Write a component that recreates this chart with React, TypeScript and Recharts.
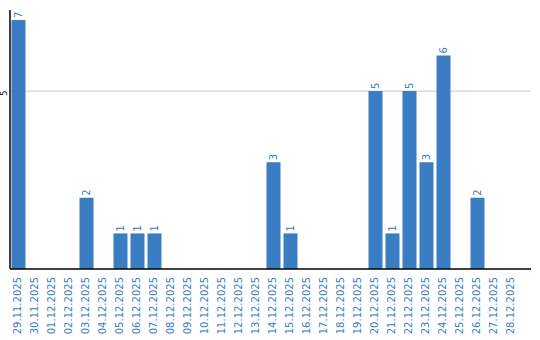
import { BarChart, Bar, XAxis, YAxis, CartesianGrid, LabelList } from 'recharts'

const days = [
  '29.11.2025', '30.11.2025', '01.12.2025', '02.12.2025', '03.12.2025', '04.12.2025',
  '05.12.2025', '06.12.2025', '07.12.2025', '08.12.2025', '09.12.2025', '10.12.2025',
  '11.12.2025', '12.12.2025', '13.12.2025', '14.12.2025', '15.12.2025', '16.12.2025',
  '17.12.2025', '18.12.2025', '19.12.2025', '20.12.2025', '21.12.2025', '22.12.2025',
  '23.12.2025', '24.12.2025', '25.12.2025', '26.12.2025', '27.12.2025', '28.12.2025',
]
const counts = [7, 0, 0, 0, 2, 0, 1, 1, 1, 0, 0, 0, 0, 0, 0, 3, 1, 0, 0, 0, 0, 5, 1, 5, 3, 6, 0, 2, 0, 0]
const yTicks = [5]

const data = days.map((day, i) => ({ day, count: counts[i] }))

const BLUE = '#3a7dc2'
const FONT = "'DejaVu Sans', Verdana, sans-serif"

function XTick({ x, y, payload }: any) {
  const ty = y
  return (
    <text
      x={x - 1}
      y={ty}
      transform={`rotate(-90, ${x - 1}, ${ty})`}
      textAnchor="end"
      dominantBaseline="central"
      fill={BLUE}
      fontSize={10}
      fontFamily={FONT}
    >
      {payload.value}
    </text>
  )
}

function YTick({ y, payload }: any) {
  return (
    <text
      x={5}
      y={y + 2}
      transform={`rotate(-90, 5, ${y + 2})`}
      textAnchor="middle"
      dominantBaseline="central"
      fill="#000"
      fontSize={8}
      fontFamily={FONT}
    >
      {payload.value}
    </text>
  )
}

function ValueLabel({ x, y, width, value }: any) {
  if (!value) return null
  const cx = x + width / 2
  const cy = y - 2
  return (
    <text
      x={cx}
      y={cy}
      transform={`rotate(-90, ${cx}, ${cy})`}
      textAnchor="start"
      dominantBaseline="central"
      fill={BLUE}
      fontSize={10}
      fontFamily={FONT}
    >
      {value}
    </text>
  )
}

export default function App() {
  return (
    <div style={{ position: 'absolute', left: 0, top: 0, background: '#fff' }}>
      <BarChart
        width={540}
        height={340}
        data={data}
        margin={{ top: 10, right: 9, left: 0, bottom: 0 }}
        barCategoryGap={1.5}
      >
        <CartesianGrid horizontal vertical={false} horizontalValues={yTicks} stroke="#c8c8c8" />
        <XAxis
          dataKey="day"
          interval={0}
          height={71}
          padding={{ left: 0, right: 11 }}
          tick={<XTick />}
          tickLine={false}
          axisLine={{ stroke: '#000', strokeWidth: 1.5 }}
        />
        <YAxis
          width={10}
          domain={[0, 7.28]}
          ticks={yTicks}
          tick={<YTick />}
          tickLine={false}
          axisLine={{ stroke: '#000', strokeWidth: 1.5 }}
        />
        <Bar dataKey="count" fill={BLUE} isAnimationActive={false}>
          <LabelList dataKey="count" content={<ValueLabel />} />
        </Bar>
      </BarChart>
    </div>
  )
}
